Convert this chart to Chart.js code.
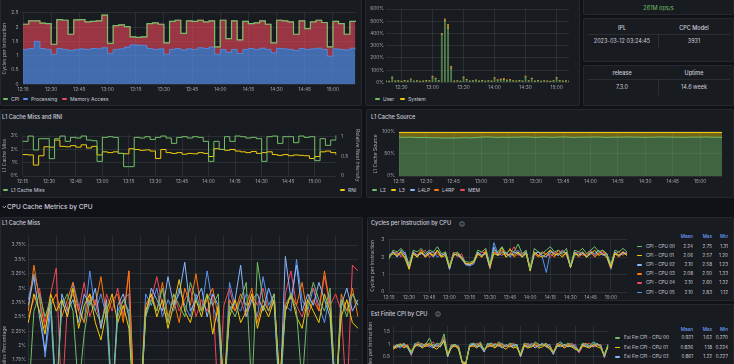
<!DOCTYPE html>
<html>
<head>
<meta charset="utf-8">
<script src="https://cdn.jsdelivr.net/npm/chart.js@4.4.1/dist/chart.umd.min.js"></script>
<style>
  html, body { margin: 0; padding: 0; }
  body { width: 734px; height: 364px; overflow: hidden; background: #111217; position: relative;
         font-family: Inter, "Noto Sans", sans-serif; color: #ccccdc; }
  .panel { position: absolute; background: #181b1f; border: 1px solid rgba(204,204,220,0.08); border-radius: 2px; box-sizing: border-box; }
  .ptitle { position: absolute; font-size: 5.6px; font-weight: 500; line-height: 7px; white-space: nowrap; }
  .abs { position: absolute; white-space: nowrap; }
  canvas { position: absolute; }
  .li { position: absolute; font-size: 5px; line-height: 6px; white-space: nowrap; }
  .li i { display: inline-block; width: 5px; height: 1.5px; border-radius: 1px; vertical-align: middle; margin: -1px 3px 0 0; }
  .stat { position: absolute; width: 70px; text-align: center; font-size: 5.5px; line-height: 7px; }
  .hl { position: absolute; height: 1px; background: rgba(204,204,220,0.10); }
  .vl { position: absolute; width: 1px; background: rgba(204,204,220,0.10); }
  .row { position: absolute; height: 6px; font-size: 4.6px; line-height: 6px; white-space: nowrap; }
  .row span { position: absolute; top: 0; }
  .row i { position: absolute; top: 2.2px; left: 3px; width: 5px; height: 1.5px; border-radius: 1px; }
  .hdr { color: #6E9FFF; font-weight: 500; }
</style>
</head>
<body>
<!-- panels -->
<div class="panel" style="left:0;top:-20px;width:362px;height:126px"></div>
<div class="panel" style="left:365px;top:-20px;width:215px;height:126px"></div>
<div class="panel" style="left:583px;top:-20px;width:151px;height:35px"></div>
<div class="panel" style="left:583px;top:18px;width:151px;height:44px"></div>
<div class="panel" style="left:583px;top:65px;width:151px;height:41px"></div>
<div class="panel" style="left:0;top:109px;width:362px;height:89px"></div>
<div class="panel" style="left:366px;top:109px;width:368px;height:89px"></div>
<div class="panel" style="left:0;top:217px;width:363px;height:280px"></div>
<div class="panel" style="left:367px;top:217px;width:367px;height:84px"></div>
<div class="panel" style="left:367px;top:304px;width:367px;height:190px"></div>

<!-- stat panels -->
<div class="abs" style="left:583px;top:5px;width:151px;text-align:center;font-size:5.6px;line-height:7px;color:#73BF69">261M ops/s</div>
<div class="stat" style="left:587px;top:24.5px;font-weight:500">IPL</div>
<div class="stat" style="left:659px;top:24.5px;font-weight:500">CPC Model</div>
<div class="hl" style="left:587px;top:33.5px;width:143px"></div>
<div class="vl" style="left:658px;top:33.5px;height:15px"></div>
<div class="stat" style="left:587px;top:37.5px">2023-03-12 03:24:45</div>
<div class="stat" style="left:659px;top:37.5px">3931</div>
<div class="stat" style="left:587px;top:69.5px;font-weight:500">release</div>
<div class="stat" style="left:659px;top:69.5px;font-weight:500">Uptime</div>
<div class="hl" style="left:587px;top:79px;width:143px"></div>
<div class="vl" style="left:658px;top:79px;height:16px"></div>
<div class="stat" style="left:587px;top:83.5px">7.3.0</div>
<div class="stat" style="left:659px;top:83.5px">14.6 week</div>

<!-- titles -->
<div class="ptitle" style="left:2px;top:113.5px">L1 Cache Miss and RNI</div>
<div class="ptitle" style="left:371px;top:113.5px">L1 Cache Source</div>
<svg class="abs" style="left:1.5px;top:205px" width="5" height="4"><polyline points="0.6,1 2.3,2.8 4,1" fill="none" stroke="#ccccdc" stroke-width="0.8"/></svg>
<div class="abs" style="left:7px;top:203px;font-size:6.5px;line-height:8px;font-weight:500">CPU Cache Metrics by CPU</div>
<div class="ptitle" style="left:2px;top:219.8px">L1 Cache Miss</div>
<div class="ptitle" style="left:371px;top:220.2px">Cycles per Instruction by CPU</div>
<svg class="abs" style="left:459.3px;top:220.7px" width="6" height="6"><circle cx="3" cy="3" r="2.3" fill="none" stroke="#9fa1a8" stroke-width="0.6"/><line x1="3" y1="2.6" x2="3" y2="4.4" stroke="#9fa1a8" stroke-width="0.6"/><circle cx="3" cy="1.7" r="0.35" fill="#9fa1a8"/></svg>
<div class="ptitle" style="left:371px;top:310.8px">Est Finite CPI by CPU</div>
<svg class="abs" style="left:435.3px;top:311.3px" width="6" height="6"><circle cx="3" cy="3" r="2.3" fill="none" stroke="#9fa1a8" stroke-width="0.6"/><line x1="3" y1="2.6" x2="3" y2="4.4" stroke="#9fa1a8" stroke-width="0.6"/><circle cx="3" cy="1.7" r="0.35" fill="#9fa1a8"/></svg>

<!-- canvases -->
<canvas id="c1" width="362" height="95" style="left:0;top:0"></canvas>
<canvas id="c2" width="215" height="95" style="left:365px;top:0"></canvas>
<canvas id="c3" width="362" height="62" style="left:0;top:125px"></canvas>
<canvas id="c4" width="368" height="62" style="left:366px;top:125px"></canvas>
<canvas id="c5" width="363" height="245" style="left:0;top:230px"></canvas>
<canvas id="c6" width="262" height="72" style="left:367px;top:232px"></canvas>
<canvas id="c7" width="245" height="62" style="left:367px;top:320px"></canvas>

<!-- legends -->
<div class="li" style="left:3px;top:96px"><i style="background:#73BF69"></i>CPI</div>
<div class="li" style="left:23px;top:96px"><i style="background:#5794F2"></i>Processing</div>
<div class="li" style="left:62px;top:96px"><i style="background:#F2495C"></i>Memory Access</div>
<div class="li" style="left:375px;top:96px"><i style="background:#73BF69"></i>User</div>
<div class="li" style="left:400px;top:96px"><i style="background:#F2CC0C"></i>System</div>
<div class="li" style="left:3px;top:187px"><i style="background:#73BF69"></i>L1 Cache Miss</div>
<div class="li" style="left:340px;top:187px"><i style="background:#F2CC0C"></i>RNI</div>
<div class="li" style="left:372px;top:187px"><i style="background:#73BF69"></i>L2</div>
<div class="li" style="left:391px;top:187px"><i style="background:#F2CC0C"></i>L3</div>
<div class="li" style="left:410px;top:187px"><i style="background:#8AB8FF"></i>L4LP</div>
<div class="li" style="left:434px;top:187px"><i style="background:#FF780A"></i>L4RP</div>
<div class="li" style="left:460px;top:187px"><i style="background:#F2495C"></i>MEM</div>

<div id="leg6"></div>
<div id="leg7"></div>

<script>
const timeLabels = ['12:15','12:18','12:21','12:24','12:27','12:30','12:33','12:36','12:39','12:42',
  '12:45','12:48','12:51','12:54','12:57','13:00','13:03','13:06','13:09','13:12',
  '13:15','13:18','13:21','13:24','13:27','13:30','13:33','13:36','13:39','13:42',
  '13:45','13:48','13:51','13:54','13:57','14:00','14:03','14:06','14:09','14:12',
  '14:15','14:18','14:21','14:24','14:27','14:30','14:33','14:36','14:39','14:42',
  '14:45','14:48','14:51','14:54','14:57','15:00','15:03','15:06','15:09','15:12'];

// Cycles per instruction (top left)
const cpi = [2.10, 2.22, 2.22, 2.14, 2.12, 1.40, 2.26, 2.24, 1.75, 2.25,
  2.26, 2.18, 2.20, 2.22, 2.42, 1.43, 2.05, 2.08, 2.02, 1.66,
  1.64, 1.66, 2.12, 2.15, 2.10, 1.45, 2.20, 2.24, 1.78, 2.22,
  2.20, 2.24, 2.18, 2.22, 1.31, 2.24, 1.60, 2.22, 1.55, 2.20,
  2.12, 2.15, 2.22, 2.10, 1.45, 2.24, 2.22, 2.18, 1.75, 2.22,
  1.95, 2.18, 2.24, 2.16, 1.31, 2.20, 2.12, 1.75, 2.20, 2.22];
const processing = [1.22, 1.25, 1.50, 1.25, 1.22, 1.05, 1.25, 1.22, 1.18, 1.22,
  1.24, 1.22, 1.25, 1.24, 1.28, 1.08, 1.22, 1.24, 1.30, 1.38,
  1.37, 1.36, 1.25, 1.22, 1.24, 1.05, 1.22, 1.25, 1.20, 1.24,
  1.22, 1.28, 1.25, 1.30, 1.05, 1.22, 1.12, 1.22, 1.08, 1.22,
  1.25, 1.22, 1.26, 1.22, 1.10, 1.25, 1.24, 1.22, 1.18, 1.25,
  1.22, 1.24, 1.26, 1.22, 0.98, 1.24, 1.22, 1.20, 1.26, 1.28];
const memoryAccess = [0.88, 0.97, 0.72, 0.89, 0.90, 0.35, 1.01, 1.02, 0.57, 1.03,
  1.02, 0.96, 0.95, 0.98, 1.14, 0.35, 0.83, 0.84, 0.72, 0.28,
  0.27, 0.30, 0.87, 0.93, 0.86, 0.40, 0.98, 0.99, 0.58, 0.98,
  0.98, 0.96, 0.93, 0.92, 0.26, 1.02, 0.48, 1.00, 0.47, 0.98,
  0.87, 0.93, 0.96, 0.88, 0.35, 0.99, 0.98, 0.96, 0.57, 0.97,
  0.73, 0.94, 0.98, 0.94, 0.33, 0.96, 0.90, 0.55, 0.94, 0.94];

// CPU utilisation (top middle), percent
const cpuUser = [10, 8, 40, 10, 12, 8, 14, 10, 25, 9,
  12, 8, 10, 14, 12, 45, 30, 12, 390, 500,
  440, 110, 10, 12, 9, 40, 22, 10, 12, 18,
  10, 14, 9, 12, 10, 35, 18, 20, 22, 15,
  18, 12, 10, 14, 10, 45, 12, 30, 10, 14,
  9, 12, 10, 8, 12, 35, 14, 10, 12, 9];
const cpuSystem = [2, 2, 4, 2, 3, 2, 3, 2, 4, 2,
  3, 2, 2, 3, 2, 6, 4, 2, 10, 20,
  35, 20, 2, 3, 2, 5, 3, 2, 3, 2,
  2, 3, 2, 2, 3, 6, 4, 8, 10, 5,
  6, 3, 2, 3, 2, 5, 3, 4, 2, 3,
  2, 3, 2, 2, 3, 5, 3, 2, 3, 2];

// L1 cache miss (%) and relative nest intensity
const l1Miss = [2.6, 3.0, 1.95, 2.8, 2.8, 1.3, 2.8, 3.0, 2.6, 2.9,
  2.85, 3.0, 2.7, 2.65, 1.1, 2.9, 2.95, 2.9, 1.7, 0.7,
  0.7, 2.9, 2.85, 2.95, 2.75, 2.9, 3.0, 2.85, 2.45, 2.9,
  2.95, 2.85, 2.95, 2.9, 2.6, 1.1, 2.6, 2.0, 2.95, 2.6,
  3.0, 2.95, 2.85, 2.9, 2.8, 1.1, 2.95, 3.0, 2.45, 2.95,
  2.95, 2.5, 3.0, 2.9, 2.95, 1.15, 2.8, 2.3, 2.7, 3.05];
const rni = [0.55, 0.54, 0.28, 0.52, 0.75, 0.74, 0.92, 0.76, 0.75, 0.78,
  0.74, 0.80, 0.72, 0.76, 0.54, 0.62, 0.60, 0.62, 0.58, 0.57,
  0.70, 0.68, 0.66, 0.67, 0.64, 0.45, 0.68, 0.60, 0.58, 0.60,
  0.56, 0.58, 0.57, 0.60, 0.58, 0.50, 0.70, 0.68, 0.66, 0.68,
  0.64, 0.62, 0.60, 0.63, 0.58, 0.60, 0.62, 0.55, 0.53, 0.55,
  0.52, 0.54, 0.53, 0.52, 0.45, 0.50, 0.62, 0.64, 0.60, 0.54];

// L1 cache source (%)
const srcL2 = [88, 87.5, 88, 87.5, 87, 87.5, 86.5, 87, 86, 86.5,
  86, 86.5, 87, 86.5, 87, 88, 88.5, 88, 87.5, 88,
  87.5, 88, 88, 88.5, 88, 87.5, 88, 88, 87.5, 88,
  88.5, 88, 87.5, 88, 88, 88, 88.5, 88, 87.5, 88,
  88, 88, 88.5, 88, 88, 87.5, 88, 88, 88.5, 88,
  88, 88, 87.5, 88, 88, 88, 88.5, 88, 88, 87.5];
const srcL3 = [10.5, 11, 10.5, 11, 11.5, 11, 12, 11.5, 12.5, 12,
  12.5, 12, 11.5, 12, 11.5, 10.5, 10, 10.5, 11, 10.5,
  11, 10.5, 10.5, 10, 10.5, 11, 10.5, 10.5, 11, 10.5,
  10, 10.5, 11, 10.5, 10.5, 10.5, 10, 10.5, 11, 10.5,
  10.5, 10.5, 10, 10.5, 10.5, 11, 10.5, 10.5, 10, 10.5,
  10.5, 10.5, 11, 10.5, 10.5, 10.5, 10, 10.5, 10.5, 11];
const srcL4LP = [0.1, 0.1, 0.2, 0.1, 0.1, 0.1, 0.2, 0.1, 0.1, 0.1,
  0.1, 0.2, 0.1, 0.1, 0.1, 0.1, 0.2, 0.1, 0.1, 0.1,
  0.1, 0.1, 0.2, 0.1, 0.1, 0.1, 0.1, 0.2, 0.1, 0.1,
  0.2, 0.1, 0.1, 0.1, 0.1, 0.2, 0.1, 0.1, 0.1, 0.1,
  0.1, 0.2, 0.1, 0.1, 0.1, 0.1, 0.1, 0.2, 0.1, 0.1,
  0.2, 0.1, 0.1, 0.1, 0.2, 0.1, 0.1, 0.1, 0.2, 0.1];
const srcL4RP = [0.5, 0.4, 0.3, 0.3, 0.3, 0.3, 0.3, 0.4, 0.5, 0.3,
  0.3, 0.3, 0.3, 0.3, 0.4, 0.3, 0.3, 0.3, 0.3, 0.3,
  0.3, 0.3, 0.3, 0.3, 0.4, 0.5, 0.5, 0.3, 0.3, 0.3,
  0.3, 0.3, 0.3, 0.3, 0.4, 0.5, 0.3, 0.3, 0.3, 0.3,
  0.3, 0.3, 0.3, 0.3, 0.3, 0.3, 0.3, 0.3, 0.3, 0.3,
  0.5, 0.5, 0.4, 0.5, 0.3, 0.4, 0.5, 0.3, 0.3, 0.3];
const srcMEM = [0.9, 1.0, 1.0, 1.1, 1.1, 1.1, 1.0, 1.0, 0.9, 1.1,
  1.1, 1.0, 1.1, 1.1, 1.0, 1.1, 1.0, 1.1, 1.1, 1.1,
  1.1, 1.1, 1.0, 1.1, 1.0, 0.9, 0.9, 1.0, 1.1, 1.1,
  1.0, 1.1, 1.1, 1.1, 1.0, 0.8, 1.1, 1.1, 1.1, 1.1,
  1.1, 1.0, 1.1, 1.1, 1.1, 1.1, 1.1, 1.0, 1.1, 1.1,
  0.8, 0.9, 1.0, 0.9, 1.0, 1.0, 0.9, 1.1, 1.0, 1.1];

// L1 cache miss by CPU (%)
const l1Cpu00 = [1.0, 2.6, 2.9, 2.5, 2.8, 1.1, 2.7, 2.9, 2.6, 1.2,
  2.2, 2.8, 2.6, 2.4, 2.7, 1.0, 2.5, 2.8, 2.6, 0.8,
  0.8, 2.5, 2.8, 2.6, 3.0, 2.4, 2.9, 2.7, 2.5, 3.1,
  2.8, 2.6, 2.9, 2.7, 2.9, 1.0, 2.7, 2.5, 2.8, 3.1,
  1.2, 3.45, 2.8, 2.6, 2.9, 1.1, 2.7, 2.9, 2.6, 1.3,
  2.7, 3.1, 2.8, 2.6, 3.0, 1.0, 2.8, 2.5, 2.9, 2.7];
const l1Cpu01 = [2.4, 2.9, 2.6, 2.2, 2.9, 2.6, 2.8, 2.5, 3.0, 2.3,
  2.7, 2.9, 2.4, 2.1, 2.6, 2.9, 2.4, 2.7, 2.3, 0.8,
  0.9, 2.6, 2.9, 2.5, 2.8, 2.3, 2.7, 3.15, 2.6, 2.4,
  2.8, 2.5, 2.9, 2.2, 2.7, 1.3, 2.5, 2.8, 2.4, 2.6,
  2.9, 2.3, 2.7, 2.5, 2.8, 1.4, 2.6, 2.9, 2.5, 2.3,
  2.8, 2.6, 2.4, 2.9, 2.6, 1.2, 2.5, 2.8, 2.4, 2.3];
const l1Cpu02 = [2.7, 3.2, 2.5, 1.9, 2.8, 1.0, 2.9, 2.6, 2.8, 2.4,
  2.9, 2.7, 3.0, 2.3, 2.8, 1.0, 2.7, 2.9, 2.5, 0.7,
  0.8, 2.5, 3.0, 2.8, 2.6, 3.2, 2.7, 2.9, 3.45, 2.6,
  2.8, 3.0, 2.5, 2.9, 2.7, 0.9, 2.6, 2.8, 3.4, 2.5,
  2.8, 2.9, 2.6, 3.0, 2.7, 1.0, 3.55, 2.8, 3.4, 2.6,
  2.9, 2.7, 3.1, 2.8, 2.5, 0.9, 2.7, 3.0, 2.6, 2.8];
const l1Cpu03 = [2.6, 3.4, 2.8, 2.3, 2.7, 2.9, 2.5, 2.8, 3.1, 2.6,
  2.4, 2.9, 2.7, 3.2, 2.5, 2.8, 2.9, 2.4, 3.3, 0.9,
  0.8, 2.7, 2.9, 2.6, 3.1, 2.5, 2.8, 2.4, 3.0, 2.7,
  3.25, 2.6, 2.8, 3.0, 2.5, 1.2, 2.8, 2.6, 2.9, 2.7,
  3.0, 2.4, 2.8, 2.6, 2.9, 1.3, 2.6, 2.9, 2.7, 3.1,
  2.5, 2.8, 2.6, 3.3, 2.7, 1.1, 2.9, 2.6, 3.0, 2.5];
const l1Cpu04 = [2.5, 2.8, 3.0, 2.4, 2.9, 3.35, 1.0, 2.7, 2.9, 2.6,
  3.1, 2.5, 2.8, 2.3, 2.9, 2.6, 3.0, 2.5, 3.3, 0.8,
  0.7, 2.6, 2.8, 3.2, 2.7, 2.4, 2.9, 2.6, 2.8, 3.0,
  2.5, 2.8, 2.6, 2.9, 1.0, 2.7, 3.0, 2.6, 2.8, 2.5,
  2.9, 2.7, 3.0, 2.6, 2.8, 1.2, 2.9, 3.3, 2.7, 2.5,
  2.8, 3.0, 2.6, 3.2, 2.7, 2.9, 2.6, 1.0, 3.4, 3.3];
const l1Cpu05 = [2.8, 3.25, 2.9, 1.8, 2.6, 0.9, 2.8, 2.5, 3.1, 2.7,
  2.4, 3.3, 2.6, 2.9, 2.5, 0.9, 2.6, 2.8, 2.9, 0.7,
  0.8, 2.9, 2.7, 3.0, 2.5, 2.8, 2.6, 3.0, 2.7, 2.5,
  2.9, 2.6, 3.3, 2.7, 2.4, 1.0, 3.1, 2.7, 2.6, 2.9,
  2.8, 2.5, 3.2, 2.7, 2.9, 0.9, 2.7, 2.6, 3.5, 2.8,
  2.6, 3.0, 2.7, 2.4, 2.9, 1.0, 2.8, 2.6, 2.9, 2.7];

// cycles per instruction by CPU
const cpiCpu00 = [1.9, 2.4, 2.3, 2.5, 2.2, 1.6, 2.4, 2.3, 2.5, 2.2,
  2.4, 2.3, 2.6, 2.2, 2.3, 1.5, 2.2, 2.3, 2.0, 1.75,
  1.7, 1.8, 2.4, 2.3, 2.5, 1.6, 2.4, 2.3, 2.6, 2.2,
  2.4, 2.3, 2.75, 2.2, 2.4, 1.31, 2.5, 2.3, 2.2, 2.4,
  2.6, 2.3, 2.4, 2.2, 2.5, 1.5, 2.4, 2.3, 2.5, 2.2,
  2.4, 2.6, 2.3, 2.4, 2.2, 1.6, 2.4, 2.3, 2.5, 2.3];
const cpiCpu01 = [2.0, 2.2, 2.1, 2.3, 1.9, 1.3, 2.2, 2.0, 2.3, 2.0,
  2.2, 2.1, 2.4, 2.0, 2.1, 1.4, 2.1, 2.2, 1.9, 1.65,
  1.6, 1.7, 2.2, 2.0, 2.3, 1.5, 2.2, 2.1, 2.57, 2.0,
  2.2, 2.1, 2.3, 2.0, 2.2, 1.2, 2.3, 2.1, 2.0, 2.2,
  2.4, 2.1, 2.2, 2.0, 2.3, 1.4, 2.2, 2.1, 2.3, 2.0,
  2.2, 2.4, 2.1, 2.2, 2.0, 1.4, 2.2, 2.1, 2.3, 2.1];
const cpiCpu02 = [2.1, 2.3, 2.0, 2.4, 2.1, 1.4, 2.3, 2.1, 2.2, 2.1,
  2.3, 2.0, 2.4, 2.1, 2.2, 1.3, 2.2, 2.1, 2.0, 1.6,
  1.55, 1.7, 2.3, 2.1, 2.2, 1.4, 2.58, 2.1, 2.3, 2.2,
  2.1, 2.3, 2.2, 2.0, 2.3, 1.23, 2.2, 2.3, 2.1, 2.0,
  2.4, 2.2, 2.1, 2.3, 2.2, 1.4, 2.3, 2.1, 2.2, 2.0,
  2.3, 2.2, 2.4, 2.1, 2.2, 1.4, 2.3, 2.1, 2.2, 2.2];
const cpiCpu03 = [2.0, 2.3, 2.1, 2.2, 2.0, 1.5, 2.2, 2.1, 2.4, 2.0,
  2.3, 2.1, 2.2, 2.0, 2.3, 1.4, 2.1, 2.2, 2.0, 1.6,
  1.6, 1.75, 2.2, 2.0, 2.4, 1.33, 2.3, 2.1, 2.2, 2.1,
  2.5, 2.0, 2.2, 2.1, 2.3, 1.4, 2.2, 2.0, 2.3, 2.1,
  2.2, 2.0, 2.4, 2.1, 2.2, 1.5, 2.3, 2.0, 2.2, 2.1,
  2.3, 2.0, 2.2, 2.4, 2.1, 1.5, 2.2, 2.0, 2.3, 2.1];
const cpiCpu04 = [2.1, 2.2, 2.3, 2.0, 2.2, 1.32, 2.3, 2.1, 2.2, 2.4,
  2.0, 2.2, 2.3, 2.1, 2.2, 1.5, 2.3, 2.0, 2.2, 1.6,
  1.55, 1.7, 2.1, 2.3, 2.2, 1.4, 2.3, 2.2, 2.4, 2.0,
  2.2, 2.6, 2.1, 2.2, 2.3, 1.4, 2.2, 2.1, 2.3, 2.2,
  2.0, 2.3, 2.2, 2.4, 2.1, 1.5, 2.2, 2.3, 2.1, 2.2,
  2.4, 2.1, 2.2, 2.3, 2.1, 1.35, 2.2, 2.3, 2.1, 2.3];
const cpiCpu05 = [2.0, 2.3, 2.2, 2.1, 2.3, 1.4, 2.2, 2.0, 2.3, 2.1,
  2.2, 2.3, 2.0, 2.2, 2.1, 1.3, 2.2, 2.1, 1.9, 1.55,
  1.5, 1.6, 2.2, 2.1, 2.3, 1.5, 2.83, 2.2, 2.1, 2.3,
  2.0, 2.2, 2.4, 2.1, 2.2, 1.3, 2.1, 2.3, 2.0, 1.12,
  2.3, 2.2, 2.1, 2.4, 2.2, 1.4, 2.1, 2.2, 2.3, 2.0,
  2.2, 2.1, 2.3, 2.2, 2.0, 1.3, 2.2, 2.1, 2.3, 2.2];
const cpiNames = ['CPI - CPU 00', 'CPI - CPU 01', 'CPI - CPU 02', 'CPI - CPU 03', 'CPI - CPU 04', 'CPI - CPU 05'];
const cpiStats = [['2.24', '2.75', '1.31'], ['2.06', '2.57', '1.20'], ['2.10', '2.58', '1.23'],
  ['2.08', '2.50', '1.33'], ['2.10', '2.60', '1.32'], ['2.10', '2.83', '1.12']];

// estimated finite CPI by CPU
const estCpu00 = [0.85, 1.0, 0.95, 1.05, 0.9, 0.65, 1.0, 1.1, 0.95, 1.0,
  1.25, 0.9, 1.05, 1.0, 1.42, 0.6, 0.95, 1.0, 0.9, 0.3,
  0.27, 1.0, 1.05, 0.95, 1.1, 0.75, 1.0, 1.05, 0.95, 1.1,
  1.0, 0.9, 1.05, 1.0, 0.95, 0.6, 1.05, 1.0, 0.9, 1.1,
  1.0, 0.95, 1.05, 0.9, 0.65, 1.0, 1.1, 0.95, 1.05, 1.0,
  0.9, 0.75, 1.05, 1.0, 0.95, 1.1, 1.0, 0.95, 0.55, 1.0];
const estCpu01 = [0.8, 0.9, 1.0, 0.85, 0.95, 0.7, 0.9, 1.0, 0.85, 0.95,
  1.05, 0.9, 0.8, 0.95, 1.1, 0.55, 0.85, 0.95, 0.8, 0.25,
  0.22, 0.9, 0.95, 0.85, 1.0, 0.8, 0.9, 0.95, 0.85, 1.0,
  0.9, 0.8, 0.95, 0.85, 0.9, 0.55, 0.95, 0.85, 0.9, 1.0,
  0.85, 0.9, 1.0, 0.8, 0.7, 0.9, 1.0, 0.85, 0.95, 0.9,
  0.8, 0.75, 0.95, 0.9, 0.85, 1.0, 0.9, 0.85, 0.55, 0.9];
const estCpu02 = [0.85, 0.95, 0.9, 1.0, 0.85, 0.6, 0.95, 1.0, 0.9, 1.05,
  0.95, 0.85, 1.0, 0.9, 1.15, 0.5, 0.9, 1.0, 0.85, 0.25,
  0.23, 0.95, 1.0, 0.9, 0.95, 0.7, 1.05, 0.9, 1.0, 0.95,
  0.85, 1.0, 0.9, 0.95, 1.0, 0.5, 0.95, 0.9, 1.0, 0.85,
  0.95, 1.05, 0.9, 0.85, 0.6, 0.95, 0.9, 1.0, 0.9, 0.95,
  0.85, 0.7, 1.0, 0.9, 0.95, 0.9, 1.05, 0.9, 0.5, 0.95];
const estCpu03 = [0.9, 0.85, 1.0, 0.95, 0.9, 0.7, 1.0, 0.95, 1.05, 0.9,
  1.0, 0.95, 0.9, 1.05, 1.2, 0.6, 0.9, 0.95, 0.85, 0.3,
  0.25, 0.9, 1.0, 0.95, 1.05, 0.75, 0.95, 1.0, 0.9, 1.05,
  0.95, 0.9, 1.0, 0.95, 0.85, 0.6, 1.0, 0.95, 0.9, 1.05,
  0.95, 1.0, 0.9, 0.95, 0.7, 1.0, 0.95, 0.9, 1.0, 0.95,
  0.9, 0.7, 0.95, 1.05, 0.9, 0.95, 1.0, 0.9, 0.6, 0.95];
const estCpu04 = [0.95, 0.9, 1.05, 0.9, 1.0, 0.55, 0.95, 1.05, 0.9, 1.0,
  0.95, 1.1, 0.9, 1.0, 1.3, 0.55, 1.0, 0.9, 0.95, 0.3,
  0.26, 0.95, 0.9, 1.05, 0.95, 0.7, 1.0, 0.95, 1.05, 0.9,
  1.0, 0.95, 0.9, 1.05, 0.95, 0.5, 0.9, 1.05, 0.95, 0.9,
  1.0, 0.95, 1.05, 0.9, 0.6, 1.05, 0.95, 1.0, 0.9, 1.05,
  0.95, 0.65, 0.9, 1.0, 1.05, 0.9, 0.95, 1.0, 0.45, 1.0];
const estCpu05 = [0.9, 0.95, 0.85, 1.0, 0.9, 0.6, 1.05, 0.9, 1.0, 0.95,
  0.9, 1.0, 0.95, 0.9, 1.2, 0.5, 0.95, 1.0, 0.9, 0.28,
  0.24, 0.9, 1.05, 1.0, 0.9, 0.72, 1.0, 1.05, 0.9, 0.95,
  1.05, 0.9, 1.0, 0.9, 1.0, 0.55, 1.0, 0.9, 1.05, 0.95,
  0.9, 1.0, 0.95, 1.0, 0.65, 0.9, 1.05, 0.95, 1.0, 0.9,
  1.0, 0.7, 1.0, 0.95, 0.9, 1.05, 0.95, 1.0, 0.5, 0.9];
const estNames = ['Est Fin CPI - CPU 00', 'Est Fin CPI - CPU 01', 'Est Fin CPI - CPU 02'];
const estStats = [['0.921', '1.62', '0.270'], ['0.836', '1.18', '0.224'], ['0.861', '1.22', '0.227']];

const cpuColors = ['#73BF69', '#F2CC0C', '#8AB8FF', '#FF780A', '#F2495C', '#5794F2'];

Chart.defaults.font.family = 'Inter';
Chart.defaults.animation = false;
Chart.defaults.events = [];
Chart.defaults.responsive = false;
Chart.defaults.plugins.legend.display = false;
Chart.defaults.plugins.tooltip.enabled = false;
Chart.defaults.elements.point.radius = 0;

const GRID = 'rgba(204,204,220,0.10)';
const TICK = 'rgba(204,204,220,0.75)';

function timeAxis(h, every, first, extra) {
  return Object.assign({
    type: 'category',
    offset: false,
    border: { display: false },
    grid: { color: GRID, drawTicks: false, offset: false },
    ticks: { color: TICK, font: { size: 4.8 }, padding: 2.2, maxRotation: 0, autoSkip: false },
    afterBuildTicks: s => { s.ticks = s.ticks.filter(t => t.value % every === first); },
    afterFit: s => { s.height = h; }
  }, extra || {});
}

function valueAxis(o) {
  return {
    type: 'linear',
    position: o.position || 'left',
    min: o.min, max: o.max,
    stacked: !!o.stacked,
    border: { display: false },
    grid: { color: GRID, drawTicks: false, display: o.grid !== false },
    ticks: { color: TICK, font: { size: 4.8 }, padding: o.pad, stepSize: o.step, includeBounds: false,
             callback: v => +v.toFixed(2) + (o.unit || '') },
    title: { display: !!o.title, text: o.title || '', color: TICK, font: { size: 5 },
             padding: { top: o.tpad || 0, bottom: 0 } },
    afterFit: s => { s.width = o.width; }
  };
}

function line(data, color, extra) {
  return Object.assign({ data: data, borderColor: color, borderWidth: 1, fill: false, pointRadius: 0 }, extra || {});
}

// top left: CPI stacked
new Chart(document.getElementById('c1'), {
  type: 'line',
  data: {
    labels: timeLabels,
    datasets: [
      line(processing, '#5794F2', { stack: 'parts', fill: 'origin', stepped: true, borderWidth: 0.8, backgroundColor: 'rgba(87,148,242,0.68)' }),
      line(memoryAccess, '#F2495C', { stack: 'parts', fill: '-1', stepped: true, borderWidth: 0.8, backgroundColor: 'rgba(242,73,92,0.6)' }),
      line(cpi, '#73BF69', { stack: 'cpi', stepped: true, borderWidth: 1.2, order: -1 })
    ]
  },
  options: {
    layout: { padding: { left: 0, right: 6.5, top: 12.8, bottom: 0 } },
    scales: {
      x: timeAxis(10.7, 5, 0),
      y: valueAxis({ min: 0, max: 2.5, step: 0.5, stacked: true, width: 23, pad: 4.5, title: 'Cycles per Instruction', tpad: 1 })
    }
  }
});

// top middle: CPU usage
new Chart(document.getElementById('c2'), {
  type: 'bar',
  data: {
    labels: timeLabels,
    datasets: [
      { data: cpuUser, backgroundColor: 'rgba(115,191,105,0.6)', borderColor: 'rgba(140,205,128,0.9)', borderWidth: 0, barThickness: 1.2 },
      { data: cpuSystem, backgroundColor: 'rgba(232,150,40,0.85)', borderWidth: 0, barThickness: 1.2 }
    ]
  },
  options: {
    layout: { padding: { left: 0, right: 11, top: 9, bottom: 0 } },
    scales: {
      x: timeAxis(12.7, 10, 5, { stacked: true }),
      y: valueAxis({ min: 0, max: 600, step: 100, stacked: true, width: 21, pad: 2, unit: '%' })
    }
  }
});

// L1 cache miss and RNI
new Chart(document.getElementById('c3'), {
  type: 'line',
  data: {
    labels: timeLabels,
    datasets: [
      line(l1Miss, '#73BF69', { stepped: true, yAxisID: 'y' }),
      line(rni, '#F2CC0C', { stepped: true, yAxisID: 'y1' })
    ]
  },
  options: {
    layout: { padding: { left: 0, right: 0, top: 9.7, bottom: 0 } },
    scales: {
      x: timeAxis(11, 5, 0),
      y: valueAxis({ min: 0, max: 3.1, step: 1, width: 22.7, pad: 4.4, unit: '%', title: 'L1 Cache Miss', tpad: 1.3 }),
      y1: valueAxis({ position: 'right', min: 0, max: 1.06, step: 0.5, width: 26, pad: 5, grid: false, title: 'Relative Nest Intensity', tpad: 2 })
    }
  }
});

// L1 cache source
new Chart(document.getElementById('c4'), {
  type: 'line',
  data: {
    labels: timeLabels,
    datasets: [
      line(srcL2, '#73BF69', { fill: 'origin', backgroundColor: 'rgba(115,191,105,0.45)' }),
      line(srcL3, '#F2CC0C', { fill: '-1', backgroundColor: 'rgba(242,204,12,0.42)' }),
      line(srcL4LP, '#8AB8FF', { fill: '-1', backgroundColor: 'rgba(138,184,255,0.5)' }),
      line(srcL4RP, '#FF780A', { fill: '-1', backgroundColor: 'rgba(255,120,10,0.55)' }),
      line(srcMEM, '#F2495C', { fill: '-1', backgroundColor: 'rgba(242,73,92,0.6)' })
    ]
  },
  options: {
    layout: { padding: { left: 0, right: 12, top: 4.3, bottom: 0 } },
    scales: {
      x: timeAxis(11, 5, 0),
      y: valueAxis({ min: 0, max: 100, step: 50, stacked: true, width: 33, pad: 4, unit: '%', title: 'L1 Cache Source', tpad: 6 })
    }
  }
});

// L1 cache miss by CPU
const l1Series = [l1Cpu00, l1Cpu01, l1Cpu02, l1Cpu03, l1Cpu04, l1Cpu05];
new Chart(document.getElementById('c5'), {
  type: 'line',
  data: { labels: timeLabels, datasets: l1Series.map((d, k) => line(d, cpuColors[k])) },
  options: {
    layout: { padding: { left: 0, right: 5, top: 6.4, bottom: 2.4 } },
    scales: {
      x: timeAxis(12, 5, 0),
      y: valueAxis({ min: 0, max: 3.9, step: 0.25, width: 28.3, pad: 2.3, unit: '%', title: 'L1 Miss Percentage', tpad: 1 })
    }
  }
});

// CPI by CPU
const cpiSeries = [cpiCpu00, cpiCpu01, cpiCpu02, cpiCpu03, cpiCpu04, cpiCpu05];
new Chart(document.getElementById('c6'), {
  type: 'line',
  data: { labels: timeLabels, datasets: cpiSeries.map((d, k) => line(d, cpuColors[k])) },
  options: {
    layout: { padding: { left: 0, right: 2, top: 7.7, bottom: 0 } },
    scales: {
      x: timeAxis(12, 5, 0),
      y: valueAxis({ min: 0, max: 3, step: 1, width: 22, pad: 4.7, title: 'Cycles per Instruction', tpad: 2.3 })
    }
  }
});

// Est finite CPI by CPU
const estSeries = [estCpu00, estCpu01, estCpu02, estCpu03, estCpu04, estCpu05];
new Chart(document.getElementById('c7'), {
  type: 'line',
  data: { labels: timeLabels, datasets: estSeries.map((d, k) => line(d, cpuColors[k])) },
  options: {
    layout: { padding: { left: 0, right: 4, top: 2.9, bottom: 0 } },
    scales: {
      x: timeAxis(12.7, 5, 0),
      y: valueAxis({ min: 0, max: 1.74, step: 0.5, width: 26, pad: 3, title: 'Cycles per Instruction', tpad: 0 })
    }
  }
});

// legend tables
function legendTable(el, left, headerY, rowYs, names, stats) {
  let html = '<div class="row hdr" style="left:' + left + 'px;top:' + (headerY - 3) + 'px;width:' + (734 - left) + 'px">' +
    '<span style="right:41px">Mean</span><span style="right:22px">Max</span><span style="right:6px">Min</span></div>';
  names.forEach((n, k) => {
    html += '<div class="row" style="left:' + left + 'px;top:' + (rowYs[k] - 3) + 'px;width:' + (734 - left) + 'px">' +
      '<i style="background:' + cpuColors[k] + '"></i><span style="left:12px">' + n + '</span>' +
      '<span style="right:41px">' + stats[k][0] + '</span><span style="right:22px">' + stats[k][1] + '</span>' +
      '<span style="right:6px">' + stats[k][2] + '</span></div>';
  });
  el.innerHTML = html;
}
legendTable(document.getElementById('leg6'), 634, 237.3, [246.5, 255.7, 264.9, 274.1, 283.3, 292.5], cpiNames, cpiStats);
legendTable(document.getElementById('leg7'), 612, 329.7, [338.3, 347.7, 357.3], estNames, estStats);
</script>
</body>
</html>
